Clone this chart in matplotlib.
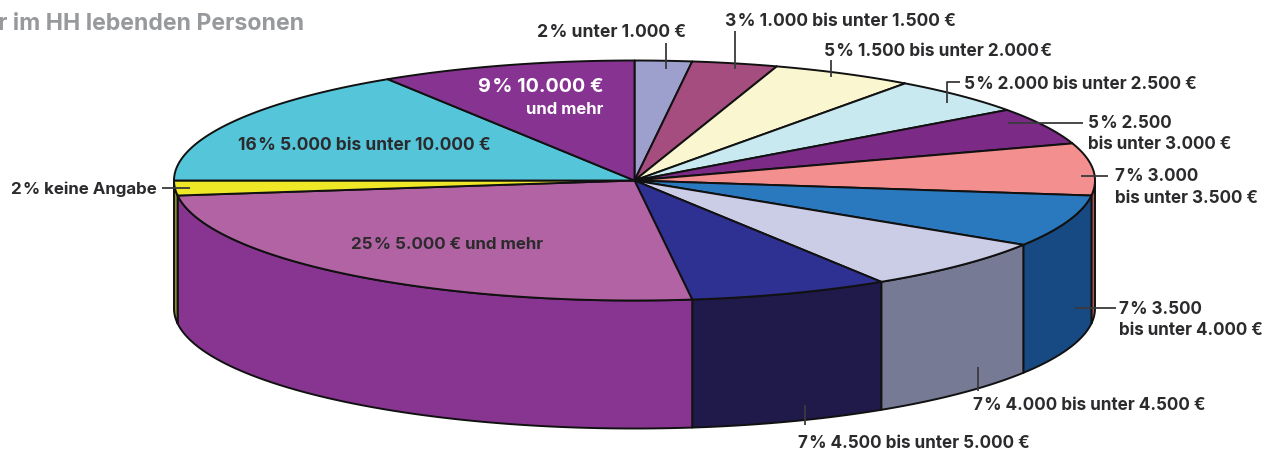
import numpy as np
import matplotlib
matplotlib.use("Agg")
import matplotlib.pyplot as plt
from matplotlib.patches import Polygon

# --- data ---
categories = ["unter 1.000 €", "1.000 bis unter 1.500 €", "1.500 bis unter 2.000 €",
              "2.000 bis unter 2.500 €", "2.500 bis unter 3.000 €", "3.000 bis unter 3.500 €",
              "3.500 bis unter 4.000 €", "4.000 bis unter 4.500 €", "4.500 bis unter 5.000 €",
              "5.000 € und mehr", "keine Angabe", "5.000 bis unter 10.000 €", "10.000 € und mehr"]
shares = [2, 3, 5, 5, 5, 7, 7, 7, 7, 25, 2, 16, 9]

# --- styles ---
top_colors = ["#9d9fcd", "#a64d80", "#faf6d0", "#c9e9f1", "#7b2a85", "#f48f8f", "#2a78bd",
              "#cbcce6", "#2e3192", "#b263a4", "#efe827", "#55c5da", "#863391"]
side_colors = ["#9d9fcd", "#a64d80", "#faf6d0", "#c9e9f1", "#7b2a85", "#a8585c", "#174a82",
               "#767a94", "#1f1a4a", "#883592", "#8f8f2a", "#55c5da", "#863391"]
INK = "#2b2a2d"
FONT = "Inter"

CX, CY, RX, RY, DEPTH = 634.5, 180.5, 460.5, 120.0, 128.0

fig = plt.figure(figsize=(12.66, 4.5), dpi=100)
ax = fig.add_axes([0, 0, 1, 1])
ax.set_xlim(0, 1266)
ax.set_ylim(450, 0)
ax.axis("off")


def rim(t_deg, drop=0.0):
    t = np.radians(t_deg)
    return np.column_stack([CX + RX * np.sin(t), CY - RY * np.cos(t) + drop])


edges = np.concatenate([[0], np.cumsum(shares)]) / np.sum(shares) * 360.0

# side walls (only the front half is visible)
for a, b, col in zip(edges[:-1], edges[1:], side_colors):
    lo, hi = max(a, 90.0), min(b, 270.0)
    if hi <= lo:
        continue
    ts = np.linspace(lo, hi, 120)
    pts = np.vstack([rim(ts), rim(ts[::-1], DEPTH)])
    ax.add_patch(Polygon(pts, closed=True, fc=col, ec="#111111", lw=1.4, joinstyle="round", zorder=2))

# top faces
for a, b, col in zip(edges[:-1], edges[1:], top_colors):
    ts = np.linspace(a, b, 160)
    pts = np.vstack([[CX, CY], rim(ts)])
    ax.add_patch(Polygon(pts, closed=True, fc=col, ec="#111111", lw=1.4, joinstyle="round", zorder=3))

# leader lines (layout)
leaders = [
    [(666, 43), (666, 69)],
    [(735, 31), (735, 69)],
    [(831, 60), (831, 77)],
    [(947, 103), (947, 82), (960, 82)],
    [(1008, 123), (1083, 123)],
    [(1081, 176), (1108, 176)],
    [(1075, 308), (1116, 308)],
    [(978, 367), (978, 391)],
    [(805, 405), (805, 425)],
    [(162, 188), (190, 188)],
]
for seg in leaders:
    xs, ys = zip(*seg)
    ax.plot(xs, ys, color="#3a3a3c", lw=1.3, zorder=4, solid_capstyle="butt")

# labels (layout)
S = "\u200a"
labels = [
    (537, 32.5, f"2{S}% unter 1.000 €", INK, 12.6),
    (725, 21.5, f"3{S}% 1.000 bis unter 1.500 €", INK, 12.6),
    (824, 51.5, f"5{S}% 1.500 bis unter 2.000{S}€", INK, 12.4),
    (964, 84.5, f"5{S}% 2.000 bis unter 2.500 €", INK, 12.35),
    (1088, 123.5, f"5{S}% 2.500", INK, 12.25),
    (1088, 144.5, "bis unter 3.000 €", INK, 12.25),
    (1115, 176.5, f"7{S}% 3.000", INK, 12.25),
    (1115, 198.5, "bis unter 3.500 €", INK, 12.25),
    (1119, 309.5, f"7{S}% 3.500", INK, 12.25),
    (1119, 330.5, "bis unter 4.000 €", INK, 12.25),
    (973, 405.5, f"7{S}% 4.000 bis unter 4.500 €", INK, 12.3),
    (798, 443.5, f"7{S}% 4.500 bis unter 5.000 €", INK, 12.3),
    (11, 189.5, f"2{S}% keine Angabe", INK, 12.2),
    (238, 145.5, f"16{S}% 5.000 bis unter 10.000 €", INK, 12.5),
    (351, 244.5, f"25{S}% 5.000 € und mehr", INK, 12.2),
    (478, 87.5, f"9{S}% 10.000 €", "white", 14.3),
    (526, 109.5, "und mehr", "white", 12.0),
]
for x, y, s, col, size in labels:
    ax.text(x, y, s, ha="left", va="center", color=col, fontsize=size,
            fontweight="bold", family=[FONT, "DejaVu Sans"], zorder=5)

ax.text(-2, 24, "r im HH lebenden Personen", ha="left", va="center", color="#97999c",
        fontsize=16.6, fontweight="bold", family=[FONT, "DejaVu Sans"], zorder=5)

fig.savefig("out.png", dpi=100)
